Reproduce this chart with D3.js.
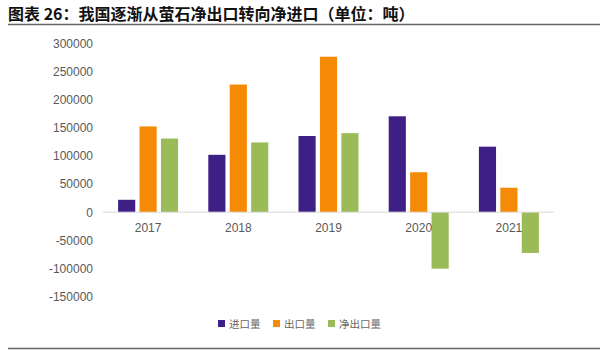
<!DOCTYPE html>
<html>
<head>
<meta charset="utf-8">
<script src="https://cdn.jsdelivr.net/npm/d3@7"></script>
<style>
  body { margin: 0; background: #fff; }
  svg { display: block; }
</style>
</head>
<body>
<svg id="chart"></svg>
<script>
// values (tons)
let years = ["2017", "2018", "2019", "2020", "2021"];
let imports = [22000, 102000, 135500, 170500, 116500];
let exports = [152500, 227000, 276500, 71000, 43500];
let netExports = [131000, 124000, 140500, -100500, -72500];
let seriesNames = ["进口量", "出口量", "净出口量"];
let yTicks = [300000, 250000, 200000, 150000, 100000, 50000, 0, -50000, -100000, -150000];

let colors = ["#3d1f86", "#f58a07", "#9bbb59"];

function getConfig() {
  let width = 600;
  let height = 351;
  let margin = { top: 43, bottom: 55, left: 103, right: 46 };
  let bodyWidth = width - margin.left - margin.right;
  let container = d3.select("#chart")
    .attr("width", width)
    .attr("height", height);
  return { width, height, margin, bodyWidth, container };
}

function getScales(config) {
  let { margin, bodyWidth } = config;
  let xScale = d3.scaleBand()
    .domain(years)
    .range([margin.left, margin.left + bodyWidth]);
  let yScale = d3.scaleLinear()
    .domain([-150000, 300000])
    .range([296.5, 43.5]);
  return { xScale, yScale };
}

function drawTitle(config) {
  let { container, width } = config;
  container.append("text")
    .attr("x", 8)
    .attr("y", 20)
    .attr("font-family", "'Noto Sans CJK SC', sans-serif")
    .attr("font-weight", "bold")
    .attr("font-size", 16)
    .attr("fill", "#111")
    .text("图表 26：我国逐渐从萤石净出口转向净进口（单位：吨）");

  container.append("line")
    .attr("x1", 8).attr("x2", width)
    .attr("y1", 24.5).attr("y2", 24.5)
    .attr("stroke", "#666").attr("stroke-width", 1.5);

  container.append("line")
    .attr("x1", 8).attr("x2", width)
    .attr("y1", 348.5).attr("y2", 348.5)
    .attr("stroke", "#666").attr("stroke-width", 1.5);
}

function drawBars(config, scales) {
  let { container } = config;
  let { xScale, yScale } = scales;
  let inner = d3.scaleBand()
    .domain(d3.range(3))
    .range([-30, 30])
    .paddingInner(0.2);

  let rows = years.map((y, i) => ({ year: y, vals: [imports[i], exports[i], netExports[i]] }));

  let groups = container.append("g").selectAll("g")
    .data(rows)
    .join("g")
    .attr("transform", d => `translate(${xScale(d.year) + xScale.bandwidth() / 2},0)`);

  groups.selectAll("rect")
    .data(d => d.vals.map((v, k) => ({ v, k })))
    .join("rect")
    .attr("x", d => inner(d.k))
    .attr("width", inner.bandwidth())
    .attr("y", d => yScale(Math.max(0, d.v)))
    .attr("height", d => Math.abs(yScale(d.v) - yScale(0)))
    .attr("fill", d => colors[d.k]);
}

function drawAxes(config, scales) {
  let { container, margin, bodyWidth } = config;
  let { xScale, yScale } = scales;

  let axisY = d3.axisLeft(yScale)
    .tickValues(yTicks)
    .tickSize(0)
    .tickPadding(10)
    .tickFormat(d => String(d));

  let gY = container.append("g")
    .attr("transform", `translate(${margin.left},0)`)
    .call(axisY);
  gY.select(".domain").remove();
  gY.selectAll("text")
    .attr("font-family", "'Liberation Sans', Arial, sans-serif")
    .attr("font-size", 12)
    .attr("fill", "#595959");

  container.append("line")
    .attr("x1", margin.left).attr("x2", margin.left + bodyWidth)
    .attr("y1", yScale(0)).attr("y2", yScale(0))
    .attr("stroke", "#d9d9d9");

  let axisX = d3.axisBottom(xScale).tickSize(0).tickPadding(11);
  let gX = container.append("g")
    .attr("transform", `translate(0,${yScale(0)})`)
    .call(axisX);
  gX.select(".domain").remove();
  gX.selectAll("text")
    .attr("font-family", "'Liberation Sans', Arial, sans-serif")
    .attr("font-size", 12)
    .attr("fill", "#595959");
}

function drawLegend(config) {
  let { container } = config;
  let xs = [218, 273, 328];
  let legend = container.append("g");
  seriesNames.forEach((name, i) => {
    legend.append("rect")
      .attr("x", xs[i]).attr("y", 320)
      .attr("width", 7).attr("height", 7)
      .attr("fill", colors[i]);
    legend.append("text")
      .attr("x", xs[i] + 11).attr("y", 327.5)
      .attr("font-family", "'Noto Sans CJK SC', sans-serif")
      .attr("font-size", 10.5)
      .attr("fill", "#666")
      .text(name);
  });
}

let config = getConfig();
let scales = getScales(config);
drawTitle(config);
drawBars(config, scales);
drawAxes(config, scales);
drawLegend(config);
</script>
</body>
</html>
